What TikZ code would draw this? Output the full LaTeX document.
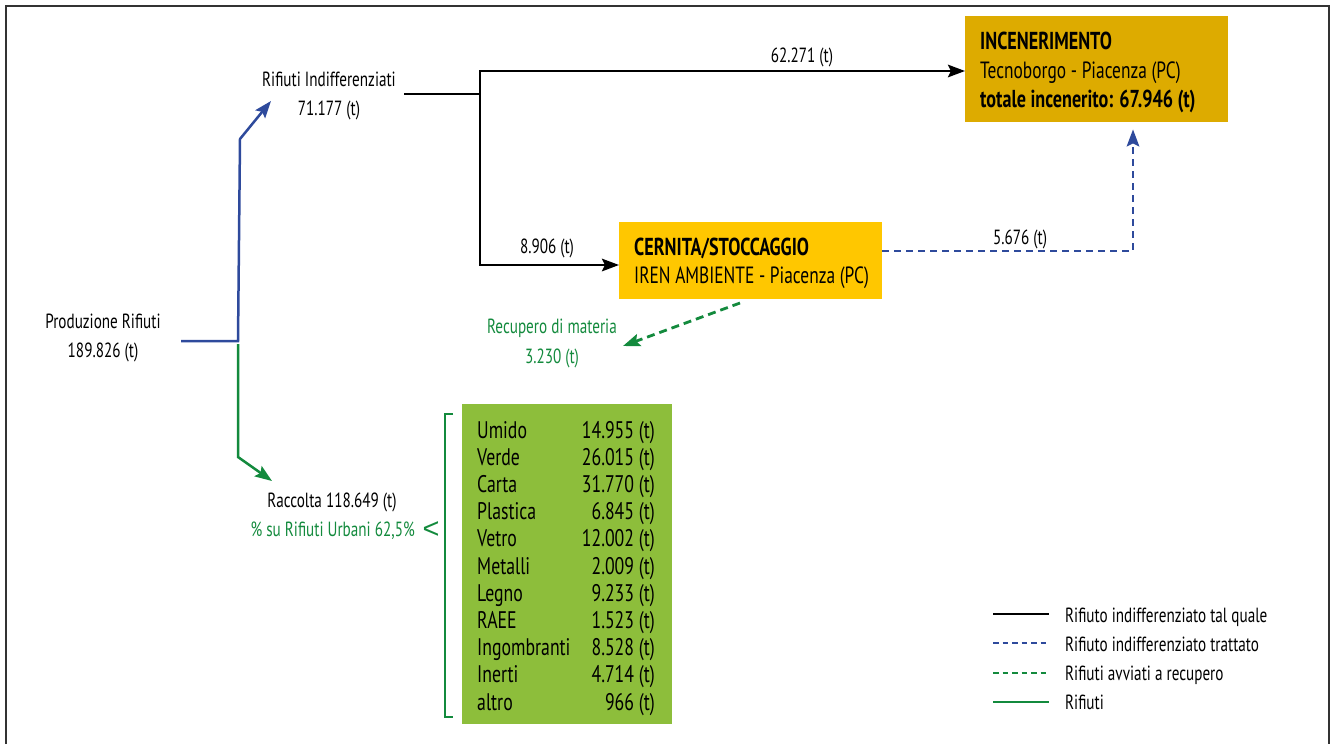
\documentclass[tikz,border=0pt]{standalone}
\usepackage{fontspec}
\setmainfont{PT Sans}[FakeStretch=0.74]
\newfontfamily\ltfont{Liberation Sans}
\usetikzlibrary{arrows.meta}
\definecolor{blueC}{HTML}{2E4A9C}
\definecolor{greenC}{HTML}{138A3D}
\definecolor{yellowC}{HTML}{FFC700}
\definecolor{goldC}{HTML}{DDAB00}
\definecolor{lgreenC}{HTML}{8DBE3B}
\definecolor{frameC}{HTML}{333333}
\tikzset{
  x=1pt, y=-1pt,
  >={Stealth[length=17pt,width=12.5pt,inset=3pt]},
  lbl/.style={inner sep=0pt, font=\fontsize{20.5}{24}\selectfont},
  boxtxt/.style={inner sep=0pt, anchor=base west, font=\fontsize{23.5}{27}\selectfont},
  boxbold/.style={inner sep=0pt, anchor=base west, font=\fontsize{24.5}{28}\selectfont\bfseries},
  tabtxt/.style={inner sep=0pt, font=\fontsize{24}{28}\selectfont},
  blackline/.style={draw=black, line width=2.6pt},
  blueline/.style={draw=blueC, line width=2.5pt},
  greenline/.style={draw=greenC, line width=2.5pt},
  bluedash/.style={draw=blueC, line width=2.5pt, dash pattern=on 7pt off 5pt},
  greendash/.style={draw=greenC, line width=2.8pt, dash pattern=on 8pt off 5pt},
  plainbox/.style={draw=none, inner sep=0pt, anchor=north west},
}
\begin{document}
\begin{tikzpicture}
\useasboundingbox (0,0) rectangle (1335,744);
% frame
\draw[frameC, line width=1.6pt] (6,744) -- (6,6) -- (1329,6) -- (1329,744);

% labels
\node[lbl, anchor=base] (prodA) at (103,328) {Produzione Rifiuti};
\node[lbl, anchor=base] (prodB) at (103,357) {189.826 (t)};
\node[lbl, anchor=base] (indA) at (329,86) {Rifiuti Indifferenziati};
\node[lbl, anchor=base] (indB) at (329,115) {71.177 (t)};
\node[lbl, anchor=base] (q1) at (802,62) {62.271 (t)};
\node[lbl, anchor=base] (q2) at (547,253) {8.906 (t)};
\node[lbl, anchor=base] (q3) at (1020,244) {5.676 (t)};
\node[lbl, anchor=base, text=greenC] (recA) at (552,333) {Recupero di materia};
\node[lbl, anchor=base, text=greenC] (recB) at (552,363) {3.230 (t)};
\node[lbl, anchor=base] (racA) at (332,507) {Raccolta 118.649 (t)};
\node[lbl, anchor=base east, text=greenC] (racB) at (415,536) {\% su Rifiuti Urbani 62,5\%};
\node[inner sep=0pt, anchor=center, text=greenC, font=\ltfont\fontsize{29}{30}\selectfont] (lt) at (431,530.5) {<};

% boxes
\node[plainbox, fill=goldC, minimum width=263pt, minimum height=106pt] (inc) at (965,16) {};
\node[boxbold] (incA) at (980,49) {INCENERIMENTO};
\node[boxtxt] (incB) at (980,78) {Tecnoborgo - Piacenza (PC)};
\node[boxbold] (incC) at (980,107) {totale incenerito: 67.946 (t)};

\node[plainbox, fill=yellowC, minimum width=263pt, minimum height=77pt] (cern) at (619,222) {};
\node[boxbold] (cernA) at (634,255) {CERNITA/STOCCAGGIO};
\node[boxtxt] (cernB) at (634,283) {IREN AMBIENTE - Piacenza (PC)};

\node[plainbox, fill=lgreenC, minimum width=210pt, minimum height=320pt] (tab) at (462,404) {};
\foreach \n/\a [count=\i from 0] in {Umido/14.955, Verde/26.015, Carta/31.770, Plastica/6.845, Vetro/12.002, Metalli/2.009, Legno/9.233, RAEE/1.523, Ingombranti/8.528, Inerti/4.714, altro/966}{
  \node[tabtxt, anchor=base west] (tl\i) at (477,438+27.2*\i) {\n};
  \node[tabtxt, anchor=base east] (tr\i) at (655,438+27.2*\i) {\a\ (t)};
}
% bracket
\draw[greenC, line width=1.1pt] (453,414) -- (445,414) -- (445,717) -- (453,717);

% coordinates
\coordinate (pOut) at (181,341);
\coordinate (j1) at (238,341);
\coordinate (j2) at (240,139);
\coordinate (indTip) at (271,101);
\coordinate (g1) at (238,344);
\coordinate (g2) at (238,457);
\coordinate (racTip) at (272,481);
\coordinate (iOut) at (404,94);
\coordinate (k1) at (480,94);
\coordinate (k2) at (480,71);
\coordinate (k3) at (480,265);
\coordinate (b1) at (1133,251);
\coordinate (rs) at (740,303);
\coordinate (rTip) at (623,346);

% connectors
\draw[blueline, ->] (pOut) -- (j1) -- (j2) -- (indTip);
\draw[greenline, ->] (g1) -- (g2) -- (racTip);
\draw[blackline] (iOut) -- (k1);
\draw[blackline, ->] (k3) -- (k2) -- (inc.west |- k2);
\draw[blackline, ->] (k1) -- (k3) -- (cern.west |- k3);
\draw[bluedash, ->, shorten >=7pt] (cern.east |- b1) -- (b1) -- (inc.south -| b1);
\draw[greendash, ->] (rs) -- (rTip);

% legend
\coordinate (L1a) at (993,614); \coordinate (L1b) at (1049,614);
\coordinate (L2a) at (993,643); \coordinate (L2b) at (1049,643);
\coordinate (L3a) at (993,673); \coordinate (L3b) at (1049,673);
\coordinate (L4a) at (993,702); \coordinate (L4b) at (1049,702);
\draw[black, line width=2.2pt] (L1a) -- (L1b);
\draw[blueC, line width=2.2pt, dash pattern=on 5.5pt off 4pt] (L2a) -- (L2b);
\draw[greenC, line width=2.2pt, dash pattern=on 5.5pt off 4pt] (L3a) -- (L3b);
\draw[greenC, line width=2.2pt] (L4a) -- (L4b);
\node[lbl, anchor=base west] (leg1) at (1065,622) {Rifiuto indifferenziato tal quale};
\node[lbl, anchor=base west] (leg2) at (1065,651) {Rifiuto indifferenziato trattato};
\node[lbl, anchor=base west] (leg3) at (1065,680) {Rifiuti avviati a recupero};
\node[lbl, anchor=base west] (leg4) at (1065,709) {Rifiuti};
\end{tikzpicture}
\end{document}
